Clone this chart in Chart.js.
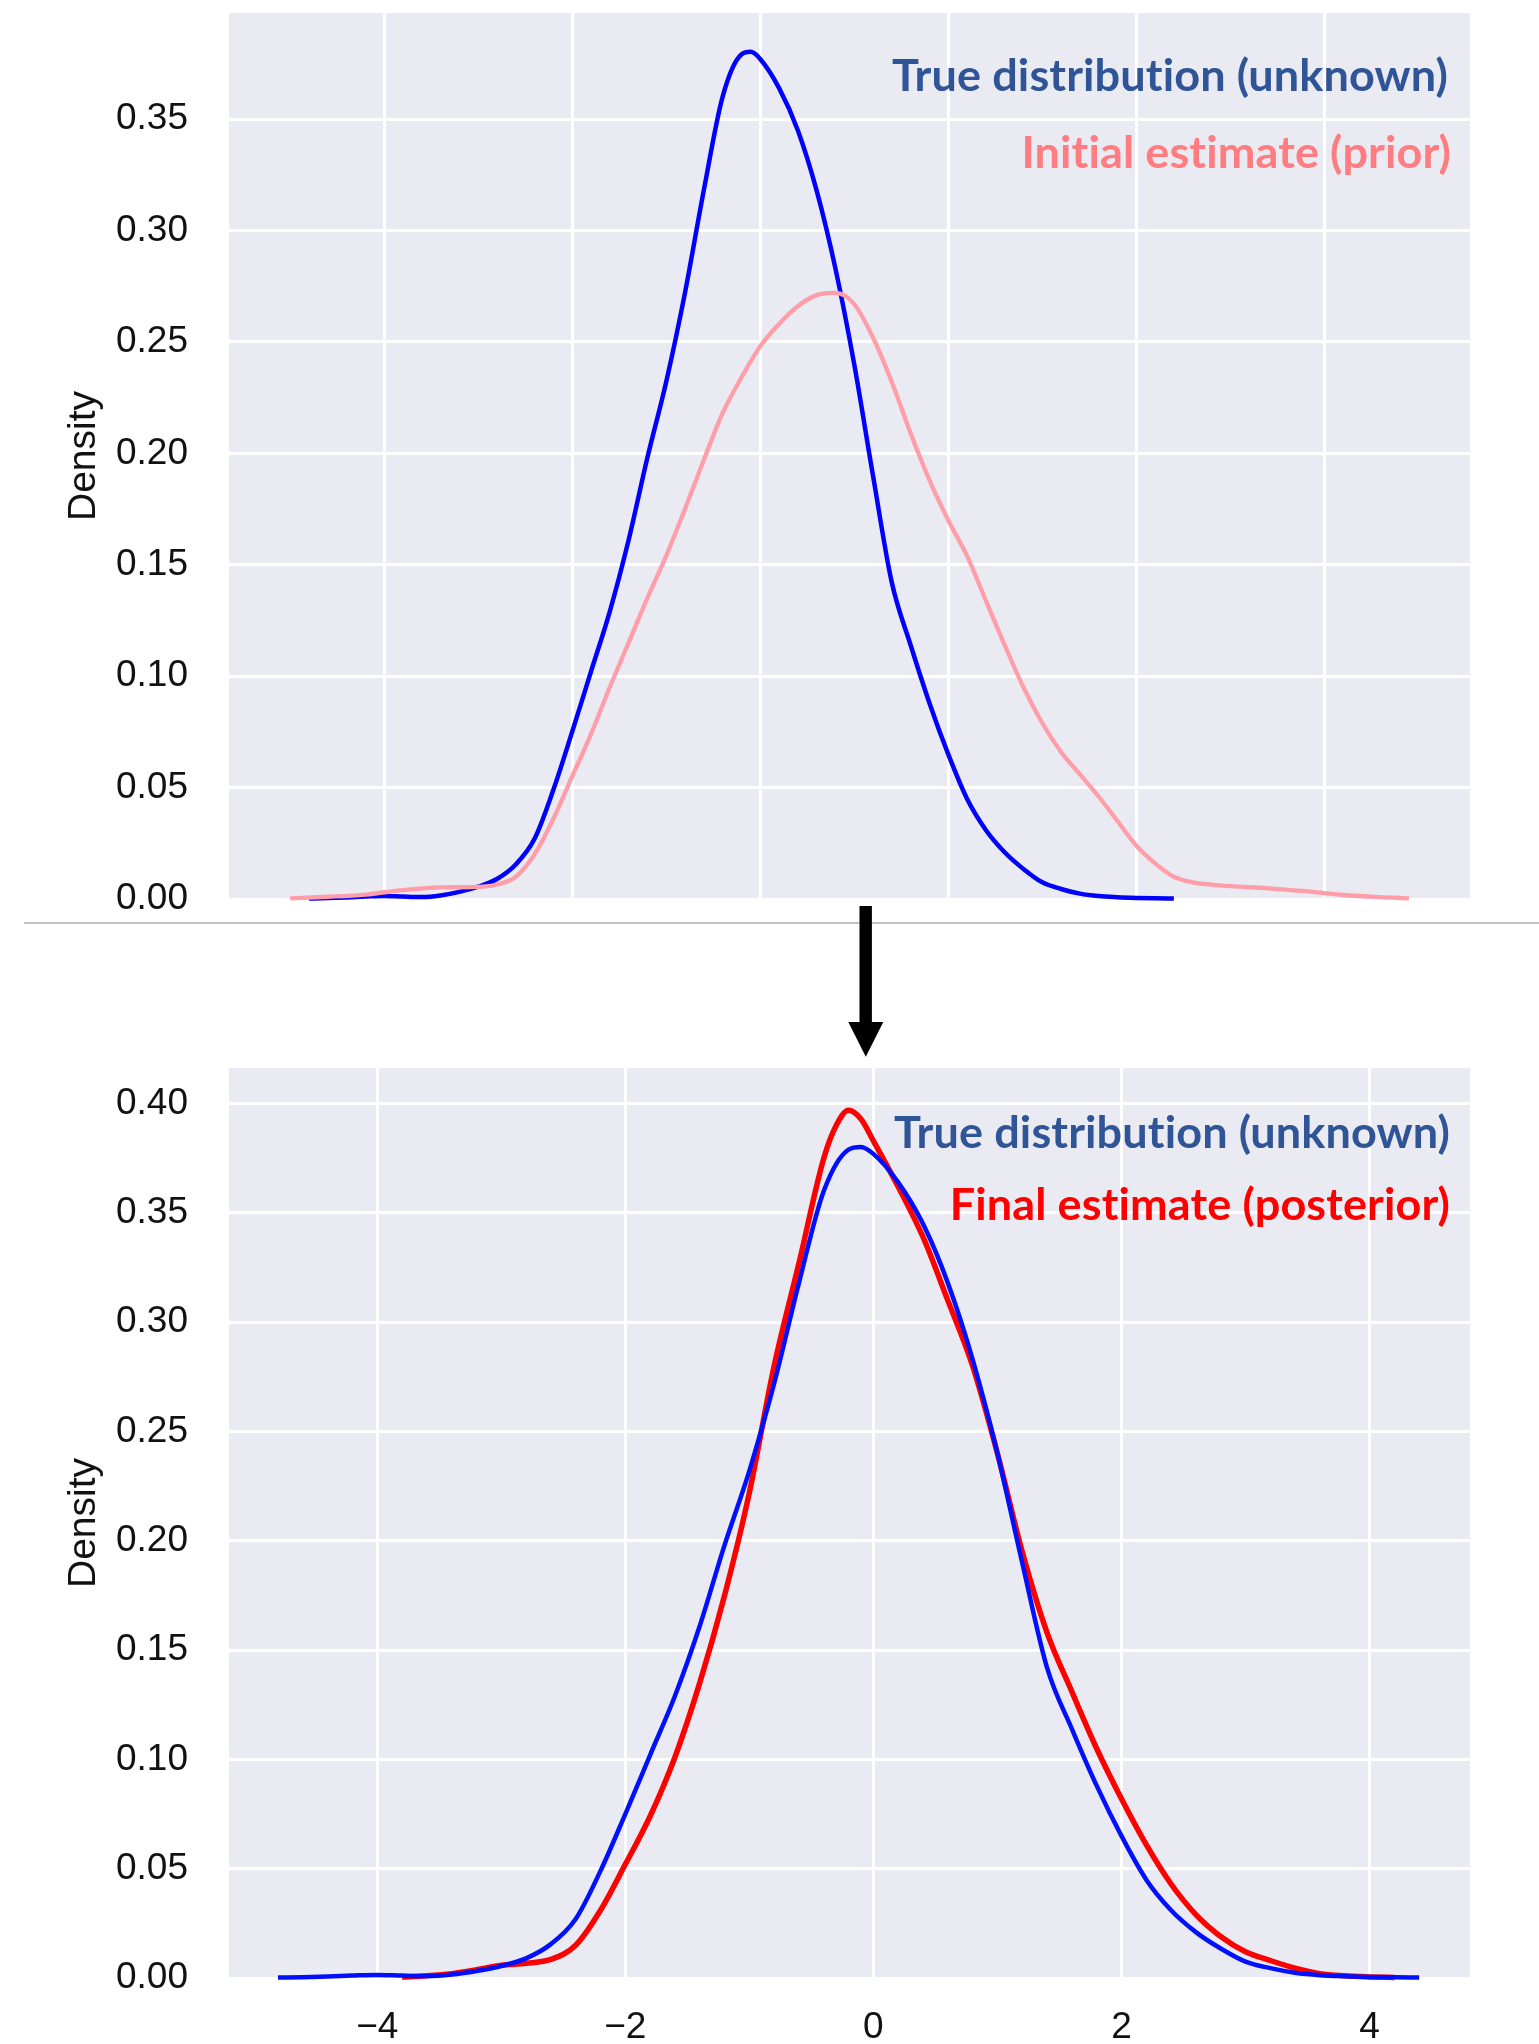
<!DOCTYPE html>
<html><head><meta charset="utf-8">
<script src="https://cdn.jsdelivr.net/npm/chart.js@4.4.1/dist/chart.umd.min.js"></script>
<style>
html,body{margin:0;padding:0;background:#fff;}
body{width:1539px;height:2044px;position:relative;overflow:hidden;}
#c1{position:absolute;left:0;top:0;}
#c2{position:absolute;left:0;top:1040px;}
#ov{position:absolute;left:0;top:0;pointer-events:none;}
</style></head><body>
<canvas id="c1" width="1539" height="935"></canvas>
<canvas id="c2" width="1539" height="1004"></canvas>
<svg id="ov" width="1539" height="2044">
<line x1="24" y1="923" x2="1539" y2="923" stroke="#c4c4c4" stroke-width="2"/>
<rect x="859.5" y="906" width="12.4" height="117" fill="#000"/>
<polygon points="848.3,1022 883.3,1022 865.8,1056.7" fill="#000"/>
</svg>
<script>
// ---- data ----
// True distribution (same curve in both panels)
const trueX = [-4.8,-4.6,-4.4,-4.2,-4.0,-3.8,-3.6,-3.4,-3.2,-3.0,-2.8,-2.6,-2.4,-2.2,-2.0,-1.8,-1.6,-1.4,-1.2,-1.0,-0.8,-0.6,-0.4,-0.2,-0.1,0.0,0.2,0.4,0.6,0.8,1.0,1.2,1.4,1.6,1.8,2.0,2.2,2.4,2.6,2.8,3.0,3.2,3.4,3.6,3.8,4.0,4.2,4.4];
const trueY = [0.0002,0.0004,0.0007,0.0011,0.0014,0.0011,0.0009,0.0016,0.0032,0.0055,0.009,0.0155,0.027,0.049,0.075,0.102,0.129,0.161,0.198,0.232,0.272,0.318,0.360,0.379,0.3802,0.377,0.364,0.345,0.318,0.283,0.240,0.190,0.142,0.114,0.088,0.065,0.045,0.031,0.021,0.0135,0.0075,0.0045,0.0024,0.0013,0.0008,0.0005,0.0003,0.0002];

// Initial estimate (prior), top panel
const priorX = [-5.0,-4.6,-4.2,-3.8,-3.4,-3.0,-2.8,-2.6,-2.4,-2.2,-2.0,-1.8,-1.6,-1.4,-1.2,-1.0,-0.8,-0.6,-0.4,-0.2,0.0,0.2,0.4,0.6,0.8,1.0,1.2,1.4,1.6,1.8,2.0,2.2,2.4,2.6,2.8,3.0,3.2,3.4,3.6,3.8,4.0,4.2,4.4,4.6,4.8,5.0,5.4,5.8,6.2,6.6,6.9];
const priorY = [0.0003,0.0010,0.0020,0.0040,0.0052,0.0054,0.0065,0.0100,0.020,0.036,0.055,0.074,0.095,0.115,0.135,0.154,0.175,0.197,0.218,0.234,0.248,0.258,0.266,0.271,0.272,0.267,0.252,0.232,0.209,0.188,0.170,0.154,0.134,0.114,0.095,0.079,0.066,0.056,0.046,0.035,0.024,0.016,0.010,0.0075,0.0065,0.0058,0.0048,0.0035,0.0018,0.0008,0.0003];

// Final estimate (posterior), bottom panel
const postX = [-3.8,-3.6,-3.4,-3.2,-3.0,-2.8,-2.6,-2.4,-2.2,-2.0,-1.8,-1.6,-1.4,-1.2,-1.0,-0.8,-0.6,-0.4,-0.3,-0.2,-0.1,0.0,0.2,0.4,0.6,0.8,1.0,1.2,1.4,1.6,1.8,2.0,2.2,2.4,2.6,2.8,3.0,3.2,3.4,3.6,3.8,4.0,4.2];
const postY = [0.0004,0.0010,0.0020,0.0038,0.0058,0.0067,0.0085,0.015,0.031,0.052,0.074,0.101,0.135,0.175,0.222,0.280,0.327,0.375,0.390,0.397,0.393,0.383,0.362,0.339,0.310,0.280,0.240,0.195,0.158,0.131,0.105,0.082,0.061,0.043,0.029,0.019,0.012,0.008,0.0045,0.0020,0.0010,0.0005,0.0002];

const xTicksTop = [-4,-2,0,2,4,6];
const yTicksTop = [0,0.05,0.10,0.15,0.20,0.25,0.30,0.35];
const xTicksBottom = [-4,-2,0,2,4];
const xTickLabelsBottom = ['\u22124','\u22122','0','2','4'];
const yTicksBottom = [0,0.05,0.10,0.15,0.20,0.25,0.30,0.35,0.40];

const labelsTop = ['True distribution (unknown)','Initial estimate (prior)'];
const labelsBottom = ['True distribution (unknown)','Final estimate (posterior)'];

// ---- styling ----
const TICK_FONT = {family:'"Liberation Sans", Arimo, Arial, sans-serif', size:37};
const TITLE_FONT = {family:'"Liberation Sans", Arimo, Arial, sans-serif', size:39};
const TEXT_COLOR = '#111111';
const BG = '#EAEAF2';
const ANNO_FONT = 'bold 44px Lato, "Open Sans", sans-serif';
const ANNO_TARGET_W = 556;

const pts = (xs, ys) => xs.map((x,i)=>({x, y: ys[i]}));

const bgPlugin = {
  id:'bg',
  beforeDraw(chart){
    const {ctx, chartArea:a} = chart;
    ctx.save(); ctx.fillStyle = BG; ctx.fillRect(a.left, a.top, a.right-a.left, a.bottom-a.top); ctx.restore();
  }
};
const annoPlugin = {
  id:'anno',
  afterDatasetsDraw(chart, args, opts){
    const ctx = chart.ctx;
    ctx.save();
    ctx.font = ANNO_FONT;
    try { ctx.letterSpacing = '0.1px'; } catch(e) {}
    const sx = ANNO_TARGET_W / ctx.measureText(labelsTop[0]).width;
    for (const it of opts.items){
      ctx.save();
      ctx.translate(it.right, it.baseline);
      ctx.scale(sx, 1);
      ctx.font = ANNO_FONT;
      try { ctx.letterSpacing = '0.1px'; } catch(e) {}
      ctx.textAlign = 'right';
      ctx.textBaseline = 'alphabetic';
      ctx.fillStyle = it.color;
      ctx.fillText(it.text, 0, 0);
      ctx.restore();
    }
    ctx.restore();
  }
};

function gridOpts(){ return {color:'#ffffff', lineWidth:3, drawTicks:false}; }
function noPad(s){ s.paddingTop = 0; s.paddingBottom = 0; s.paddingLeft = 0; s.paddingRight = 0; }

function build(){
  // top chart
  new Chart(document.getElementById('c1'), {
    type:'line',
    data:{datasets:[
      {data:pts(priorX, priorY), borderColor:'#ff9ea9', borderWidth:4.3, pointRadius:0, cubicInterpolationMode:'monotone', fill:false, clip:5},
      {data:pts(trueX, trueY), borderColor:'#0000ff', borderWidth:4.5, pointRadius:0, cubicInterpolationMode:'monotone', fill:false, clip:5}
    ]},
    options:{
      responsive:false, animation:false, devicePixelRatio:1,
      layout:{padding:{left:0,right:69,top:13,bottom:0}},
      plugins:{legend:{display:false}, tooltip:{enabled:false},
        anno:{items:[
          {text:labelsTop[0], color:'#2F5597', right:1448, baseline:91},
          {text:labelsTop[1], color:'#FF7C80', right:1451, baseline:168}
        ]}},
      scales:{
        x:{type:'linear', min:-5.65, max:7.55,
           afterBuildTicks:s=>{s.ticks = xTicksTop.map(v=>({value:v}));},
           ticks:{display:false}, grid:gridOpts(), border:{display:false},
           afterFit:s=>{s.height = 36; noPad(s);}},
        y:{type:'linear', min:0, max:0.3976,
           afterBuildTicks:s=>{s.ticks = yTicksTop.map(v=>({value:v}));},
           ticks:{font:TICK_FONT, color:TEXT_COLOR, padding:41, callback:v=>Number(v).toFixed(2)},
           grid:gridOpts(), border:{display:false},
           title:{display:true, text:'Density', font:TITLE_FONT, color:TEXT_COLOR, padding:{top:61,bottom:0}},
           afterFit:s=>{s.width = 229; noPad(s);}}
      }
    },
    plugins:[bgPlugin, annoPlugin]
  });

  // bottom chart
  new Chart(document.getElementById('c2'), {
    type:'line',
    data:{datasets:[
      {data:pts(trueX, trueY), borderColor:'#0010ff', borderWidth:4.5, pointRadius:0, cubicInterpolationMode:'monotone', fill:false, clip:5},
      {data:pts(postX, postY), borderColor:'#ff0000', borderWidth:5.5, pointRadius:0, cubicInterpolationMode:'monotone', fill:false, clip:5}
    ]},
    options:{
      responsive:false, animation:false, devicePixelRatio:1,
      layout:{padding:{left:0,right:69,top:28,bottom:0}},
      plugins:{legend:{display:false}, tooltip:{enabled:false},
        anno:{items:[
          {text:labelsBottom[0], color:'#2F5597', right:1450, baseline:108},
          {text:labelsBottom[1], color:'#FF0000', right:1450, baseline:180}
        ]}},
      scales:{
        x:{type:'linear', min:-5.195, max:4.81,
           afterBuildTicks:s=>{s.ticks = xTicksBottom.map(v=>({value:v}));},
           ticks:{font:TICK_FONT, color:TEXT_COLOR, padding:28, maxRotation:0,
                  callback:(v)=>{const i = xTicksBottom.indexOf(Number(v)); return i>=0 ? xTickLabelsBottom[i] : '';}},
           grid:gridOpts(), border:{display:false},
           afterFit:s=>{s.height = 66; noPad(s);}},
        y:{type:'linear', min:0, max:0.4163,
           afterBuildTicks:s=>{s.ticks = yTicksBottom.map(v=>({value:v}));},
           ticks:{font:TICK_FONT, color:TEXT_COLOR, padding:41, callback:v=>Number(v).toFixed(2)},
           grid:gridOpts(), border:{display:false},
           title:{display:true, text:'Density', font:TITLE_FONT, color:TEXT_COLOR, padding:{top:61,bottom:0}},
           afterFit:s=>{s.width = 229; noPad(s);}}
      }
    },
    plugins:[bgPlugin, annoPlugin]
  });
}

const loads = [document.fonts.load('bold 44px Lato'), document.fonts.load('37px "Liberation Sans"')];
Promise.all(loads).catch(()=>{}).finally(build);
</script>
</body></html>
